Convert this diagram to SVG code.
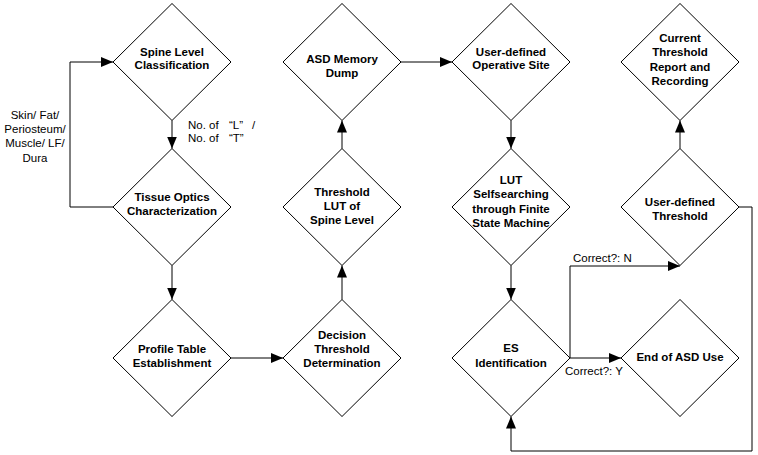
<svg xmlns="http://www.w3.org/2000/svg" width="758" height="455" viewBox="0 0 758 455">
<style>
.node polygon{fill:#fff;stroke:#000;stroke-width:1}
.node text{font-family:"Liberation Sans",Arial,sans-serif;font-weight:bold;font-size:11.5px;text-anchor:middle;fill:#000}
.lbl{font-family:"Liberation Sans",Arial,sans-serif;font-size:11.5px;fill:#000}
#connectors path{fill:none;stroke:#000;stroke-width:1}
</style>
<defs>
<marker id="arr" markerWidth="12" markerHeight="10" refX="12" refY="5" orient="auto" markerUnits="userSpaceOnUse">
<path d="M0,0 L12,5 L0,10 z" fill="#000"/>
</marker>
</defs>
<rect width="758" height="455" fill="#fff"/>
<g id="connectors">
<path d="M172,120.5 V148.5" marker-end="url(#arr)"/>
<path d="M113,207 H70 V62 H113" marker-end="url(#arr)"/>
<path d="M172,265.5 V299.5" marker-end="url(#arr)"/>
<path d="M231,358 H283" marker-end="url(#arr)"/>
<path d="M342,299.5 V265.5" marker-end="url(#arr)"/>
<path d="M342,148.5 V120.5" marker-end="url(#arr)"/>
<path d="M401,62 H452" marker-end="url(#arr)"/>
<path d="M511,120.5 V148.5" marker-end="url(#arr)"/>
<path d="M511,265.5 V299.5" marker-end="url(#arr)"/>
<path d="M570,358 H621" marker-end="url(#arr)"/>
<path d="M570,358 V266 H680" marker-end="url(#arr)"/>
<path d="M680,148.5 V120.5" marker-end="url(#arr)"/>
<path d="M739,207 H752 V451 H511 V416.5" marker-end="url(#arr)"/>
</g>
<g id="labels">
<text class="lbl" text-anchor="middle"><tspan x="35" y="119">Skin/ Fat/</tspan><tspan x="35" y="133">Periosteum/</tspan><tspan x="35" y="147">Muscle/ LF/</tspan><tspan x="35" y="162">Dura</tspan></text>
<text class="lbl"><tspan x="188" y="129">No. of</tspan><tspan x="229" y="129">“L”</tspan><tspan x="252" y="129">/</tspan><tspan x="188" y="142">No. of</tspan><tspan x="229" y="142">“T”</tspan></text>
<text class="lbl" x="573" y="262">Correct?: N</text>
<text class="lbl" x="565" y="375">Correct?: Y</text>
</g>
<g id="n1" class="node"><polygon points="172,3.5 231,62 172,120.5 113,62"/><text><tspan x="172" y="56">Spine Level</tspan><tspan x="172" y="69">Classification</tspan></text></g>
<g id="n2" class="node"><polygon points="172,148.5 231,207 172,265.5 113,207"/><text><tspan x="172" y="201">Tissue Optics</tspan><tspan x="172" y="215">Characterization</tspan></text></g>
<g id="n3" class="node"><polygon points="172,299.5 231,358 172,416.5 113,358"/><text><tspan x="172" y="353">Profile Table</tspan><tspan x="172" y="367">Establishment</tspan></text></g>
<g id="n4" class="node"><polygon points="342,299.5 401,358 342,416.5 283,358"/><text><tspan x="342" y="339">Decision</tspan><tspan x="342" y="353">Threshold</tspan><tspan x="342" y="367">Determination</tspan></text></g>
<g id="n5" class="node"><polygon points="342,148.5 401,207 342,265.5 283,207"/><text><tspan x="342" y="196">Threshold</tspan><tspan x="342" y="210">LUT of</tspan><tspan x="342" y="224">Spine Level</tspan></text></g>
<g id="n6" class="node"><polygon points="342,3.5 401,62 342,120.5 283,62"/><text><tspan x="342" y="63">ASD Memory</tspan><tspan x="342" y="77">Dump</tspan></text></g>
<g id="n7" class="node"><polygon points="511,3.5 570,62 511,120.5 452,62"/><text><tspan x="511" y="56">User-defined</tspan><tspan x="511" y="69">Operative Site</tspan></text></g>
<g id="n8" class="node"><polygon points="511,148.5 570,207 511,265.5 452,207"/><text><tspan x="511" y="184">LUT</tspan><tspan x="511" y="198">Selfsearching</tspan><tspan x="511" y="213">through Finite</tspan><tspan x="511" y="227">State Machine</tspan></text></g>
<g id="n9" class="node"><polygon points="511,299.5 570,358 511,416.5 452,358"/><text><tspan x="511" y="352">ES</tspan><tspan x="511" y="367">Identification</tspan></text></g>
<g id="n10" class="node"><polygon points="680,299.5 739,358 680,416.5 621,358"/><text><tspan x="680" y="361">End of ASD Use</tspan></text></g>
<g id="n11" class="node"><polygon points="680,148.5 739,207 680,265.5 621,207"/><text><tspan x="680" y="206">User-defined</tspan><tspan x="680" y="220">Threshold</tspan></text></g>
<g id="n12" class="node"><polygon points="680,3.5 739,62 680,120.5 621,62"/><text><tspan x="680" y="42">Current</tspan><tspan x="680" y="56">Threshold</tspan><tspan x="680" y="71">Report and</tspan><tspan x="680" y="85">Recording</tspan></text></g>
</svg>
